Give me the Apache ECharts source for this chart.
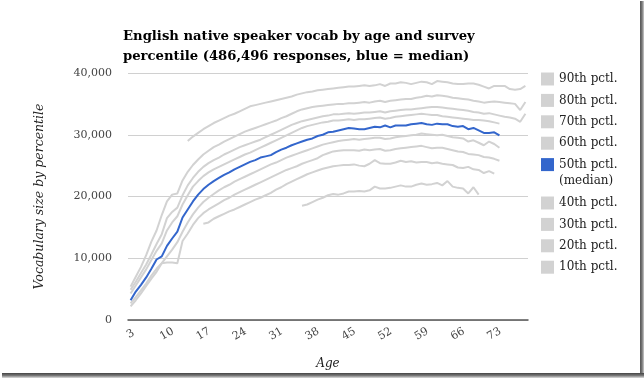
<!DOCTYPE html>
<html>
<head>
<meta charset="utf-8">
<script src="https://cdn.jsdelivr.net/npm/echarts@6/dist/echarts.min.js"></script>
<style>html,body{margin:0;padding:0;background:#fff;}#c{width:644px;height:379px;}</style>
</head>
<body>
<div id="c"></div>
<script>
const titleText = 'English native speaker vocab by age and survey\npercentile (486,496 responses, blue = median)';
const xAxisTitle = 'Age';
const yAxisTitle = 'Vocabulary size by percentile';
const yTicks = [0, 10000, 20000, 30000, 40000];

const ages = [3,4,5,6,7,8,9,10,11,12,13,14,15,16,17,18,19,20,21,22,23,24,25,26,27,28,29,30,31,32,33,34,35,36,37,38,39,40,41,42,43,44,45,46,47,48,49,50,51,52,53,54,55,56,57,58,59,60,61,62,63,64,65,66,67,68,69,70,71,72,73,74,75,76,77,78,79];

const seriesNames = ['90th pctl.','80th pctl.','70th pctl.','60th pctl.','50th pctl.','40th pctl.','30th pctl.','20th pctl.','10th pctl.'];

const p90 = [null,null,null,null,null,null,null,null,null,null,null,
  29000,29700,30300,30900,31400,31900,32300,32700,33100,33400,33800,34200,34600,34800,35000,35200,35400,35600,35800,36000,36200,36500,36700,36900,37000,37200,37300,37400,37500,37600,37700,37800,37800,37900,38000,37900,38000,38200,37900,38300,38300,38500,38400,38200,38400,38600,38500,38200,38700,38600,38500,38300,38200,38200,38300,38300,38100,37800,37500,37900,37900,37900,37400,37300,37400,37900];

const p80 = [5400,7000,8600,10500,12700,14500,17000,19200,20300,20500,22600,24000,25100,26000,26800,27400,28000,28400,28900,29300,29700,30100,30500,30800,31100,31400,31700,32000,32300,32700,33000,33400,33800,34100,34300,34500,34600,34700,34800,34900,35000,35000,35100,35100,35200,35300,35200,35400,35500,35300,35500,35600,35700,35800,35800,36000,36100,36300,36200,36400,36300,36200,36000,35900,35800,35700,35500,35400,35200,35300,35400,35300,35200,35100,35000,34000,35300];

const p70 = [4900,6200,7600,9000,10600,12300,13900,16500,17500,18200,20200,21800,23000,24000,24800,25400,25900,26300,26800,27200,27600,28000,28300,28600,28900,29200,29600,30000,30400,30800,31200,31600,31900,32200,32400,32600,32800,33000,33100,33300,33300,33400,33500,33400,33500,33600,33600,33700,33800,33600,33800,33900,34000,34100,34100,34200,34300,34400,34500,34500,34400,34300,34200,34100,34000,33900,33700,33600,33400,33500,33300,33100,32900,32800,32600,32100,33400];

const p60 = [4300,5600,6900,8200,9700,11200,12400,14500,15800,16800,18700,20200,21600,22500,23300,23900,24400,24800,25200,25600,26000,26400,26800,27100,27500,27900,28300,28700,29100,29500,29900,30300,30700,31100,31400,31600,31800,32000,32100,32300,32300,32400,32500,32400,32500,32500,32600,32700,32800,32600,32700,32900,33000,33100,33200,33300,33400,33300,33200,33200,33000,32900,32800,32700,32600,32500,32400,32400,32300,32200,32000,31800,null,null,null,null,null];

const p50 = [3200,4600,5700,6900,8300,9800,10300,12000,13200,14300,16600,17900,19200,20300,21200,21900,22500,23000,23500,23900,24400,24800,25200,25600,25900,26300,26500,26700,27200,27600,27900,28300,28600,28900,29200,29400,29800,30000,30400,30500,30700,30900,31100,31000,30900,30900,31100,31300,31200,31500,31200,31500,31500,31500,31700,31800,31900,31700,31600,31800,31700,31700,31400,31300,31400,30900,31100,30700,30300,30300,30400,29900,null,null,null,null,null];

const p40 = [2700,3700,4800,5900,7200,8300,9200,10300,11400,12600,14300,15800,17100,18200,19100,19800,20400,21000,21500,21900,22400,22800,23200,23600,24000,24400,24800,25200,25500,25900,26300,26600,26900,27200,27500,27800,28100,28400,28600,28800,29000,29100,29200,29300,29200,29300,29400,29500,29500,29300,29400,29600,29700,29800,29900,30000,30200,30100,30000,29900,30000,29800,29600,29500,29400,28900,29100,28700,28300,28900,28500,27900,null,null,null,null,null];

const p30 = [2200,3200,4300,5500,6700,7800,9200,9300,9300,9200,12800,14000,15400,16500,17300,17900,18400,18900,19400,19800,20300,20700,21100,21500,21900,22300,22700,23100,23500,23900,24300,24600,24900,25300,25600,25900,26200,26700,27000,27300,27400,27500,27500,27500,27400,27600,27500,27600,27700,27400,27500,27700,27800,27900,28000,28100,28200,28000,27800,27900,27900,27700,27500,27300,27200,26900,26800,26700,26400,26300,26100,25800,null,null,null,null,null];

const p20 = [null,null,null,null,null,null,null,null,null,null,null,null,null,null,
  15600,15800,16400,16800,17200,17600,17900,18300,18700,19100,19500,19800,20200,20600,21100,21500,22000,22400,22800,23200,23600,23900,24200,24500,24700,24900,25000,25100,25100,25200,25000,24900,25300,25900,25400,25300,25300,25500,25800,25600,25700,25500,25600,25600,25400,25500,25300,25200,25100,24700,24600,24800,24400,24300,23800,24100,23700,null,null,null,null,null,null];

const p10 = [null,null,null,null,null,null,null,null,null,null,null,null,null,null,null,null,null,null,null,null,null,null,null,null,null,null,null,null,null,null,null,null,null,
  18500,18700,19100,19500,19800,20200,20400,20300,20500,20800,20800,20900,20800,21000,21600,21300,21300,21400,21600,21800,21600,21600,21900,22100,21900,22000,22200,21800,22500,21600,21400,21300,20500,21500,20300,null,null,null,null,null,null,null,null,null];

const seriesData = [p90,p80,p70,p60,p50,p40,p30,p20,p10];
const GREY = '#d2d2d2';
const BLUE = '#3366cc';
const SERIF = 'DejaVu Serif';

const chart = echarts.init(document.getElementById('c'));
const series = seriesNames.map((name, i) => {
  const isMed = i === 4;
  const col = isMed ? BLUE : GREY;
  return {
    name: name,
    type: 'line',
    data: seriesData[i],
    showSymbol: false,
    symbol: 'none',
    connectNulls: false,
    z: isMed ? 5 : 2,
    lineStyle: { color: col, width: 2 },
    itemStyle: { color: col },
    emphasis: { disabled: true }
  };
});

const legendBase = {
  orient: 'vertical',
  left: 541,
  padding: 0,
  itemWidth: 13,
  itemHeight: 13,
  itemGap: 8.4,
  icon: 'rect',
  selectedMode: false,
  textStyle: { fontFamily: SERIF, fontSize: 12, color: '#222' }
};

chart.setOption({
  animation: false,
  backgroundColor: '#fff',
  title: {
    text: titleText,
    left: 123,
    top: 27,
    padding: 0,
    textStyle: { fontFamily: SERIF, fontWeight: 'bold', fontSize: 13.2, lineHeight: 20, color: '#000' }
  },
  legend: [
    Object.assign({}, legendBase, { top: 72.5, data: seriesNames.slice(0,5) }),
    Object.assign({}, legendBase, { top: 196.5, data: seriesNames.slice(5) })
  ],
  grid: { left: 128, right: 116, top: 73, bottom: 59, containLabel: false },
  xAxis: {
    type: 'category',
    data: ages,
    boundaryGap: true,
    name: xAxisTitle,
    nameLocation: 'middle',
    nameGap: 38,
    nameTextStyle: { fontFamily: SERIF, fontStyle: 'italic', fontSize: 12, color: '#222' },
    axisLine: { lineStyle: { color: '#555', width: 1.5 } },
    axisTick: { show: false },
    axisLabel: {
      interval: 6,
      rotate: 30,
      align: 'center',
      verticalAlign: 'middle',
      margin: 14,
      fontFamily: SERIF,
      fontSize: 11,
      color: '#444'
    },
    splitLine: { show: false }
  },
  yAxis: {
    type: 'value',
    min: yTicks[0],
    max: yTicks[yTicks.length-1],
    interval: 10000,
    name: yAxisTitle,
    nameLocation: 'middle',
    nameGap: 82,
    nameTextStyle: { fontFamily: SERIF, fontStyle: 'italic', fontSize: 12.5, color: '#222' },
    axisLine: { show: false },
    axisTick: { show: false },
    axisLabel: {
      margin: 16,
      fontFamily: SERIF,
      fontSize: 11,
      color: '#444',
      formatter: v => v.toLocaleString('en-US')
    },
    splitLine: { lineStyle: { color: '#d0d0d0', width: 1 } }
  },
  graphic: [
    { type: 'text', left: 559, top: 175, style: { text: '(median)', font: '12px "DejaVu Serif"', fill: '#222' }, silent: true },
    { type: 'rect', shape: { x: 640, y: 1, width: 4, height: 373 }, style: { fill: new echarts.graphic.LinearGradient(0,0,1,0,[{offset:0,color:'#555'},{offset:0.5,color:'#777'},{offset:1,color:'#ccc'}]) }, silent: true },
    { type: 'rect', shape: { x: 2, y: 373, width: 642, height: 5 }, style: { fill: new echarts.graphic.LinearGradient(0,0,0,1,[{offset:0,color:'#444'},{offset:0.5,color:'#777'},{offset:1,color:'#ddd'}]) }, silent: true }
  ],
  series: series
});
</script>
</body>
</html>
